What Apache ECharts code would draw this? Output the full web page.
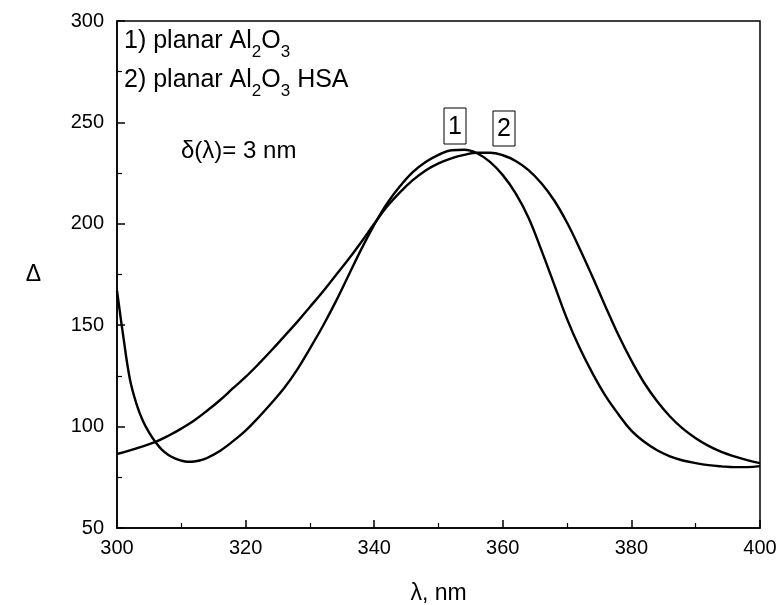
<!DOCTYPE html>
<html>
<head>
<meta charset="utf-8">
<script src="https://cdn.jsdelivr.net/npm/echarts@6/dist/echarts.min.js"></script>
<style>html,body{margin:0;padding:0;background:#fff}#c{width:780px;height:605px}</style>
</head>
<body>
<div id="c"></div>
<script>
var wavelength1 = [300,301,302,303,304,305,306,307,308,309,310,311,312,313,314,316,318,320,322,324,326,328,330,332,334,336,338,340,342,344,346,348,350,352,354,356,358,360,362,364,366,368,370,372,374,376,378,380,382,384,386,388,390,392,394,396,398,400];
var delta1 = [167,144,123.5,111.5,103,97,92.3,88.5,86,84.3,83.2,82.7,82.8,83.4,84.5,88,92.7,98,104.5,111.5,119,128,138.5,149.5,161.5,174.5,187.5,199.5,210,218.5,225.5,230.5,234,236.3,236.5,234.8,230.5,224,215,203,187,170,153,138.5,126,115,106,98,92.5,88.3,85.3,83.3,82,81,80.4,80,80,80.5];
var wavelength2 = [300,302,304,306,308,310,312,314,316,318,320,322,324,326,328,330,332,334,336,338,340,342,344,346,348,350,352,354,356,358,360,362,364,366,368,370,372,374,376,378,380,382,384,386,388,390,392,394,396,398,400];
var delta2 = [86.5,88.3,90.3,92.5,95.5,99,103,107.8,113,118.8,124.5,130.8,137.5,144.5,151.5,159,166.5,174.5,182.5,191,200,208.5,215.5,221.5,226.3,229.8,232.3,234,235,235,233.8,231,226.5,220,211.5,200.5,187.5,173.5,159,145,132.5,121.5,112.5,105,99,94.3,90.5,87.5,85.3,83.5,82];
var xTicks = [300,320,340,360,380,400];
var yTicks = [50,100,150,200,250,300];
var seriesNames = ['1) planar Al2O3','2) planar Al2O3 HSA'];

function pairs(xs, ys){ return xs.map(function(x,i){ return [x, ys[i]]; }); }

var FONT = 'Liberation Sans, Arial, sans-serif';
var chart = echarts.init(document.getElementById('c'));
var axisCommon = {
  axisLine:{show:true, lineStyle:{color:'#000', width:1.5}},
  axisTick:{show:true, inside:true, length:8, lineStyle:{color:'#000', width:1.5}},
  minorTick:{show:true, splitNumber:2, length:5, lineStyle:{color:'#000', width:1.2}},
  splitLine:{show:false}
};
var rich = {
  n:{fontSize:25, fontFamily:FONT, fill:'#000', verticalAlign:'top', lineHeight:29},
  s:{fontSize:17, fontFamily:FONT, fill:'#000', verticalAlign:'top', lineHeight:29, padding:[15,0,0,0]}
};
chart.setOption({
  animation:false,
  backgroundColor:'#fff',
  grid:{left:117, right:20, top:21, bottom:77, show:true, borderColor:'#000', borderWidth:1.5, containLabel:false, outerBoundsMode:'none'},
  xAxis: Object.assign({}, axisCommon, {
    type:'value', min:xTicks[0], max:xTicks[xTicks.length-1], interval:20,
    name:'λ, nm', nameLocation:'middle', nameGap:54,
    nameTextStyle:{color:'#000', fontSize:23, fontFamily:FONT},
    axisLabel:{color:'#000', fontSize:20, fontFamily:FONT, margin:10}
  }),
  yAxis: Object.assign({}, axisCommon, {
    type:'value', min:yTicks[0], max:yTicks[yTicks.length-1], interval:50,
    name:'Δ', nameLocation:'middle', nameGap:76, nameRotate:0,
    nameTextStyle:{color:'#000', fontSize:23, fontFamily:FONT},
    axisLabel:{color:'#000', fontSize:20, fontFamily:FONT, margin:13}
  }),
  series:[
    {name:seriesNames[0], type:'line', data:pairs(wavelength1, delta1), smooth:0.4, showSymbol:false, lineStyle:{color:'#000', width:2.4}},
    {name:seriesNames[1], type:'line', data:pairs(wavelength2, delta2), smooth:0.4, showSymbol:false, lineStyle:{color:'#000', width:2.4}}
  ],
  graphic:[
    {type:'text', left:124, top:29, style:{text:'{n|1) planar Al}{s|2}{n|O}{s|3}', rich:rich}},
    {type:'text', left:124, top:68, style:{text:'{n|2) planar Al}{s|2}{n|O}{s|3}{n| HSA}', rich:rich}},
    {type:'text', left:181, top:139, style:{text:'δ(λ)= 3 nm', fontSize:24, fontFamily:FONT, fill:'#000'}},
    {type:'rect', shape:{x:444, y:108, width:22, height:36}, style:{fill:'none', stroke:'#000', lineWidth:1}},
    {type:'text', x:455, y:127, style:{text:'1', fontSize:25, fontFamily:FONT, fill:'#000', align:'center', verticalAlign:'middle'}},
    {type:'rect', shape:{x:493, y:111, width:22, height:35}, style:{fill:'none', stroke:'#000', lineWidth:1}},
    {type:'text', x:504, y:129, style:{text:'2', fontSize:25, fontFamily:FONT, fill:'#000', align:'center', verticalAlign:'middle'}}
  ]
});
</script>
</body>
</html>
